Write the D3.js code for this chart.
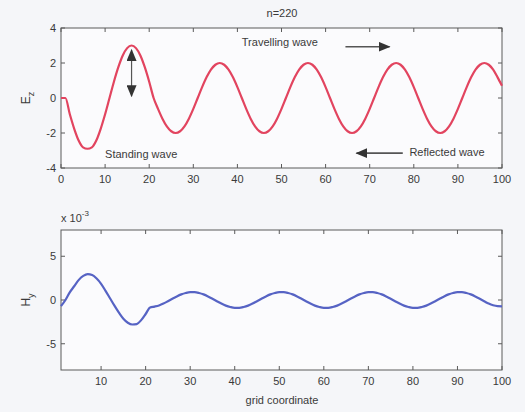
<!DOCTYPE html>
<html><head><meta charset="utf-8">
<script src="https://cdn.jsdelivr.net/npm/d3@7"></script>
<style>
body{margin:0;background:#f5f6f9;}
svg{display:block;font-family:"Liberation Sans",Arial,sans-serif;}
</style></head>
<body>
<script>
// ---- data ----
const title = "n=220";
const xTop = d3.range(0, 101);            // grid coordinate 0..100
const ezValues = [
  0, 0, -0.93, -1.76, -2.43, -2.82, -2.9, -2.82, -2.43, -1.76, -0.93,
  0, 0.93, 1.76, 2.43, 2.85, 3.0, 2.85, 2.43, 1.76, 0.93,
  0, -0.62, -1.18, -1.62, -1.9, -2.0, -1.9, -1.62, -1.18, -0.62,
  0, 0.62, 1.18, 1.62, 1.9, 2.0, 1.9, 1.62, 1.18, 0.62,
  0, -0.62, -1.18, -1.62, -1.9, -2.0, -1.9, -1.62, -1.18, -0.62,
  0, 0.62, 1.18, 1.62, 1.9, 2.0, 1.9, 1.62, 1.18, 0.62,
  0, -0.62, -1.18, -1.62, -1.9, -2.0, -1.9, -1.62, -1.18, -0.62,
  0, 0.62, 1.18, 1.62, 1.9, 2.0, 1.9, 1.62, 1.18, 0.62,
  0, -0.62, -1.18, -1.62, -1.9, -2.0, -1.9, -1.62, -1.18, -0.62,
  0, 0.62, 1.18, 1.62, 1.9, 2.0, 1.9, 1.62, 1.18, 0.7
];
const xBottom = d3.range(1, 101);         // grid coordinate 1..100
const hyValues = [ // units of 1e-3
  -0.7, 0.0, 0.9, 1.6, 2.3, 2.75, 2.95, 2.85, 2.45, 1.85,
  1.05, 0.2, -0.65, -1.45, -2.15, -2.6, -2.8, -2.75, -2.3, -1.6,
  -0.85, -0.75, -0.62, -0.41, -0.14, 0.14, 0.41, 0.64, 0.8, 0.89,
  0.89, 0.8, 0.64, 0.41, 0.14, -0.14, -0.41, -0.64, -0.8, -0.89,
  -0.89, -0.8, -0.64, -0.41, -0.14, 0.14, 0.41, 0.64, 0.8, 0.89,
  0.89, 0.8, 0.64, 0.41, 0.14, -0.14, -0.41, -0.64, -0.8, -0.89,
  -0.89, -0.8, -0.64, -0.41, -0.14, 0.14, 0.41, 0.64, 0.8, 0.89,
  0.89, 0.8, 0.64, 0.41, 0.14, -0.14, -0.41, -0.64, -0.8, -0.89,
  -0.89, -0.8, -0.64, -0.41, -0.14, 0.14, 0.41, 0.64, 0.8, 0.89,
  0.89, 0.8, 0.64, 0.41, 0.14, -0.14, -0.41, -0.6, -0.7, -0.72
];
const topXTicks = d3.range(0, 101, 10);
const topYTicks = [-4, -2, 0, 2, 4];
const bottomXTicks = d3.range(10, 101, 10);
const bottomYTicks = [-5, 0, 5];
const xLabel = "grid coordinate";
const annotations = [
  {text: "Travelling wave", x: 41, y: 3.0},
  {text: "Standing wave", x: 10, y: -3.4},
  {text: "Reflected wave", x: 79, y: -3.3}
];

// ---- drawing ----
const W = 525, H = 412;
const svg = d3.select("body").append("svg").attr("width", W).attr("height", H);
const axisColor = "#5a5a5a", textColor = "#3a3a3a";

function drawAxes(g, x, y, xTicks, yTicks, x0, x1, y0, y1) {
  g.append("rect").attr("x", x0).attr("y", y0).attr("width", x1 - x0).attr("height", y1 - y0)
    .attr("fill", "#fbfbfd").attr("stroke", axisColor).attr("stroke-width", 1);
  const tl = 4;
  xTicks.forEach(t => {
    const px = x(t);
    g.append("line").attr("x1", px).attr("x2", px).attr("y1", y1).attr("y2", y1 - tl).attr("stroke", axisColor);
    g.append("line").attr("x1", px).attr("x2", px).attr("y1", y0).attr("y2", y0 + tl).attr("stroke", axisColor);
    g.append("text").attr("x", px).attr("y", y1 + 15).attr("text-anchor", "middle")
      .attr("font-size", 11).attr("fill", textColor).text(t);
  });
  yTicks.forEach(t => {
    const py = y(t);
    g.append("line").attr("x1", x0).attr("x2", x0 + tl).attr("y1", py).attr("y2", py).attr("stroke", axisColor);
    g.append("line").attr("x1", x1).attr("x2", x1 - tl).attr("y1", py).attr("y2", py).attr("stroke", axisColor);
    g.append("text").attr("x", x0 - 5).attr("y", py + 4).attr("text-anchor", "end")
      .attr("font-size", 11).attr("fill", textColor).text(t);
  });
}

// top panel
const L = 61, R = 502;
const xT = d3.scaleLinear().domain([0, 100]).range([L, R]);
const yT = d3.scaleLinear().domain([-4, 4]).range([168, 28]);
const gT = svg.append("g");
drawAxes(gT, xT, yT, topXTicks, topYTicks, L, R, 28, 168);
gT.append("path").datum(xTop.map((d, i) => [d, ezValues[i]]))
  .attr("d", d3.line().x(d => xT(d[0])).y(d => yT(d[1])).curve(d3.curveMonotoneX))
  .attr("fill", "none").attr("stroke", "#e2445f").attr("stroke-width", 2.2);
gT.append("text").attr("x", 282).attr("y", 17).attr("text-anchor", "middle")
  .attr("font-size", 11).attr("fill", textColor).text(title);
const ez = gT.append("text").attr("transform", "translate(30,98) rotate(-90)")
  .attr("text-anchor", "middle").attr("font-size", 12).attr("fill", textColor);
ez.append("tspan").text("E");
ez.append("tspan").attr("font-size", 9).attr("dy", 4).text("z");

annotations.forEach(a => {
  gT.append("text").attr("x", xT(a.x)).attr("y", yT(a.y)).attr("font-size", 11)
    .attr("fill", textColor).text(a.text);
});

// arrows
const defs = svg.append("defs");
defs.append("marker").attr("id", "ah").attr("viewBox", "0 0 12 10").attr("refX", 11).attr("refY", 5)
  .attr("markerWidth", 12).attr("markerHeight", 10).attr("markerUnits", "userSpaceOnUse")
  .attr("orient", "auto-start-reverse")
  .append("path").attr("d", "M0,0 L12,5 L0,10 Z").attr("fill", "#333");
const arrowColor = "#555";
// travelling arrow (right)
gT.append("line").attr("x1", xT(64.5)).attr("x2", xT(74.5)).attr("y1", yT(2.93)).attr("y2", yT(2.93))
  .attr("stroke", arrowColor).attr("stroke-width", 1.6).attr("marker-end", "url(#ah)");
// reflected arrow (left)
gT.append("line").attr("x1", xT(77.5)).attr("x2", xT(67)).attr("y1", yT(-3.15)).attr("y2", yT(-3.15))
  .attr("stroke", arrowColor).attr("stroke-width", 1.6).attr("marker-end", "url(#ah)");
// standing double arrow
gT.append("line").attr("x1", xT(16)).attr("x2", xT(16)).attr("y1", yT(2.75)).attr("y2", yT(0.1))
  .attr("stroke", arrowColor).attr("stroke-width", 1.2)
  .attr("marker-start", "url(#ah)").attr("marker-end", "url(#ah)");

// bottom panel
const xB = d3.scaleLinear().domain([1, 100]).range([L, R]);
const yB = d3.scaleLinear().domain([-8, 8]).range([370, 230]);
const gB = svg.append("g");
drawAxes(gB, xB, yB, bottomXTicks, bottomYTicks, L, R, 230, 370);
gB.append("path").datum(xBottom.map((d, i) => [d, hyValues[i]]))
  .attr("d", d3.line().x(d => xB(d[0])).y(d => yB(d[1])).curve(d3.curveMonotoneX))
  .attr("fill", "none").attr("stroke", "#5663c4").attr("stroke-width", 2.2);
const hy = gB.append("text").attr("transform", "translate(30,300) rotate(-90)")
  .attr("text-anchor", "middle").attr("font-size", 12).attr("fill", textColor);
hy.append("tspan").text("H");
hy.append("tspan").attr("font-size", 9).attr("dy", 4).text("y");
const ex = gB.append("text").attr("x", 61).attr("y", 222).attr("font-size", 11).attr("fill", textColor);
ex.append("tspan").text("x 10");
ex.append("tspan").attr("font-size", 8).attr("dy", -6).text("-3");
gB.append("text").attr("x", 282).attr("y", 404).attr("text-anchor", "middle")
  .attr("font-size", 11).attr("fill", textColor).text(xLabel);
</script>
</body></html>
